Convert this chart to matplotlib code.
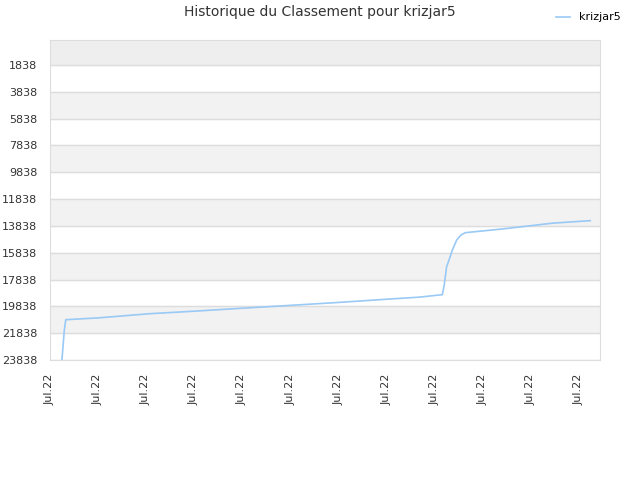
import matplotlib
matplotlib.use("Agg")
import matplotlib.pyplot as plt

# day index (x) and rank (y)
days = [0.25, 0.30, 0.33, 1.0, 2.08, 3.0, 4.0, 5.21, 6.0, 7.0, 7.7, 8.17,
        8.21, 8.26, 8.31, 8.38, 8.47, 8.56, 8.65, 9.42, 10.46, 11.25]
ranks = [23838, 21600, 20834, 20700, 20386, 20200, 19980, 19720, 19550, 19310, 19150, 18968,
         18246, 16880, 16380, 15635, 14890, 14517, 14345, 14070, 13640, 13450]

tick_pos = list(range(12))
tick_labels = ["Jul.22"] * 12
y_ticks = [1838, 3838, 5838, 7838, 9838, 11838, 13838, 15838, 17838, 19838, 21838, 23838]

fig = plt.figure(figsize=(6.4, 4.8), dpi=100)
ax = fig.add_axes([0.078, 0.25, 0.86, 0.667])

y_top = -30
y_bot = 23838
ax.set_xlim(0, 11.46)
ax.set_ylim(y_bot, y_top)

# alternating bands
ax.axhspan(y_top, y_ticks[0], color="#eeeeee", zorder=0)
for i in range(len(y_ticks) - 1):
    if i % 2 == 1:
        ax.axhspan(y_ticks[i], y_ticks[i + 1], color="#f2f2f2", zorder=0)
for t in y_ticks:
    ax.axhline(t, color="#dddddd", linewidth=1, zorder=1)

ax.plot(days, ranks, color="#99c9f5", linewidth=1.2, label="krizjar5", zorder=3)

ax.set_yticks(y_ticks)
ax.set_yticklabels([str(t) for t in y_ticks], fontsize=8, color="#333333")
ax.set_xticks(tick_pos)
ax.set_xticklabels(tick_labels, rotation=90, fontsize=8, color="#333333")
ax.tick_params(axis="y", length=0, pad=9)
ax.tick_params(axis="x", length=0, pad=10)
for s in ax.spines.values():
    s.set_color("#dddddd")

fig.suptitle("Historique du Classement pour krizjar5", fontsize=10, color="#333333", x=0.5, y=0.99)
fig.legend(loc="upper right", bbox_to_anchor=(0.985, 0.995), frameon=False, fontsize=8,
           handlelength=1.2)

fig.savefig("out.png", dpi=100)
